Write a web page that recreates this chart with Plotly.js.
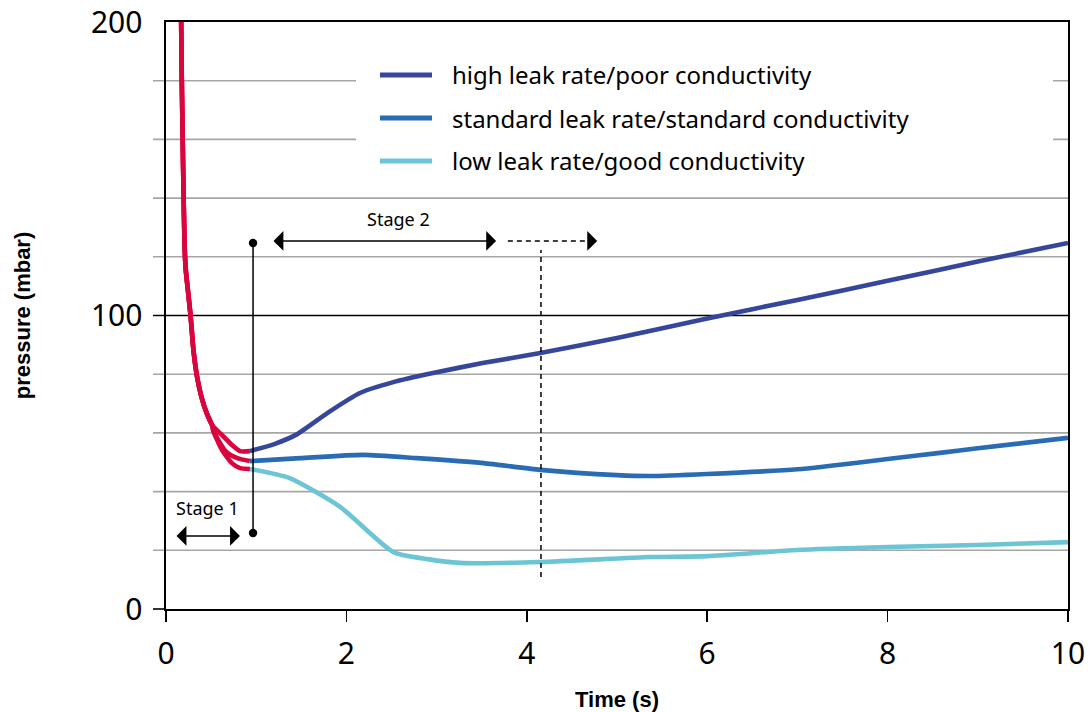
<!DOCTYPE html>
<html>
<head>
<meta charset="utf-8">
<script src="https://cdn.plot.ly/plotly-3.0.1.min.js"></script>
<style>html,body{margin:0;padding:0;background:#fff;}#chart{width:1091px;height:712px;}</style>
</head>
<body>
<div id="chart"></div>
<script>
// ---- data ----
const seriesNames = ['high leak rate/poor conductivity', 'standard leak rate/standard conductivity', 'low leak rate/good conductivity'];

// stage 1: common pump-down (red)
const stemX = [0.168, 0.175, 0.19, 0.205, 0.218, 0.245, 0.272, 0.305, 0.345, 0.395, 0.45, 0.51];
const stemY = [200, 180, 150, 125, 116, 108, 100, 88, 79, 72, 66.8, 62.7];
const highStemX = [0.62, 0.73, 0.82, 0.93];
const highStemY = [59.3, 55.9, 53.8, 53.8];
const stdStemX = [0.565, 0.67, 0.79, 0.93];
const stdStemY = [58.3, 53.5, 51.4, 50.4];
const lowStemX = [0.52, 0.62, 0.73, 0.82, 0.93];
const lowStemY = [61.0, 54.2, 49.7, 48.0, 47.7];

// stage 2: the three cases
const highX = [0.93, 1.2, 1.45, 1.8, 2.15, 2.52, 2.96, 3.51, 4.15, 5.0, 6.0, 7.0, 8.0, 9.0, 10.0];
const highY = [53.8, 56.2, 59.5, 67.0, 73.6, 77.3, 80.4, 83.8, 87.2, 92.3, 99.0, 105.3, 111.8, 118.4, 124.7];
const stdX = [0.93, 1.49, 2.19, 2.78, 3.52, 4.15, 5.0, 5.37, 6.0, 7.0, 8.0, 8.58, 9.0, 10.0];
const stdY = [50.4, 51.4, 52.5, 51.4, 49.7, 47.4, 45.6, 45.3, 46.0, 47.6, 51.1, 53.2, 54.8, 58.3];
const lowX = [0.93, 1.37, 1.93, 2.52, 2.9, 3.26, 4.15, 5.37, 6.0, 7.0, 8.0, 9.0, 10.0];
const lowY = [47.7, 44.6, 34.8, 19.4, 17.0, 15.7, 16.0, 17.7, 18.0, 20.1, 21.1, 21.8, 22.8];

const xTicks = [0, 2, 4, 6, 8, 10];
const yTickVals = [0, 100, 200];
const yTickText = ['0', '100', '200'];
const gridVals = [20, 40, 60, 80, 120, 140, 160, 180];

// annotation geometry (data units)
const stage1 = {x0: 0.10, x1: 0.82, y: 24.9, labelX: 0.455, labelY: 34.4, text: 'Stage 1'};
const stage2 = {x0: 1.175, x1: 3.66, y: 125.4, labelX: 2.583, labelY: 132.9, text: 'Stage 2'};
const stage2Dashed = {x0: 3.79, x1: 4.78, y: 125.4};
const markerLine = {x: 0.965, y0: 25.9, y1: 124.7};
const dashedLine = {x: 4.157, y0: 10.9, y1: 122.3};

// ---- styling ----
const RED = '#d8053f';
const COLORS = ['#36479b', '#2a6cb4', '#6cc5d5'];
const LW = 4.6;
const TICKFONT = {family: 'Noto Sans, sans-serif', size: 30, color: '#000'};
const TITLEFONT = {family: 'Liberation Sans, Arial, sans-serif', size: 22, color: '#000', weight: 'bold'};

const line = (c) => ({color: c, width: LW, shape: 'spline', smoothing: 0.6});

const traces = [
  {x: highX, y: highY, mode: 'lines', name: seriesNames[0], line: line(COLORS[0]), showlegend: false},
  {x: stdX, y: stdY, mode: 'lines', name: seriesNames[1], line: line(COLORS[1]), showlegend: false},
  {x: lowX, y: lowY, mode: 'lines', name: seriesNames[2], line: line(COLORS[2]), showlegend: false},
  {x: stemX.concat(highStemX), y: stemY.concat(highStemY), mode: 'lines', line: line(RED), showlegend: false},
  {x: stemX.concat(stdStemX), y: stemY.concat(stdStemY), mode: 'lines', line: line(RED), showlegend: false},
  {x: stemX.concat(lowStemX), y: stemY.concat(lowStemY), mode: 'lines', line: line(RED), showlegend: false}
];

// plot area: x 166..1068, y 22..609
const PX0 = 166, PW = 902, PY0 = 22, PH = 587;
const px = (p) => (p - PX0) / PW;
const py = (p) => (PY0 + PH - p) / PH;

const shapes = [];
gridVals.forEach(v => shapes.push({type: 'line', xref: 'paper', yref: 'y', x0: px(153), x1: 1, y0: v, y1: v,
  line: {color: '#a6a6a6', width: 1.6}, layer: 'below'}));
shapes.push({type: 'line', xref: 'paper', yref: 'y', x0: px(153), x1: 1, y0: 100, y1: 100, line: {color: '#000', width: 1.4}, layer: 'below'});
shapes.push({type: 'line', xref: 'paper', yref: 'paper', x0: px(153), x1: 0, y0: 0, y1: 0, line: {color: '#000', width: 1.6}, layer: 'below'});
// legend box (white) covering the grid
shapes.push({type: 'rect', xref: 'paper', yref: 'paper', x0: px(356), x1: px(1053), y0: py(188), y1: py(55),
  fillcolor: '#fff', line: {width: 0}, layer: 'below'});
// legend samples
const legRows = [75, 118, 161];
legRows.forEach((r, i) => shapes.push({type: 'line', xref: 'paper', yref: 'paper', x0: px(380), x1: px(432), y0: py(r), y1: py(r),
  line: {color: COLORS[i], width: 5}, layer: 'below'}));
// marker line with dots
shapes.push({type: 'line', xref: 'x', yref: 'y', x0: markerLine.x, x1: markerLine.x, y0: markerLine.y0, y1: markerLine.y1, line: {color: '#000', width: 1.5}, layer: 'above'});
[markerLine.y0, markerLine.y1].forEach(v => shapes.push({type: 'circle', xref: 'x', yref: 'y', xsizemode: 'pixel', ysizemode: 'pixel',
  xanchor: markerLine.x, yanchor: v, x0: -4.2, x1: 4.2, y0: -4.2, y1: 4.2, fillcolor: '#000', line: {width: 0}, layer: 'above'}));
// dashed vertical line
shapes.push({type: 'line', xref: 'x', yref: 'y', x0: dashedLine.x, x1: dashedLine.x, y0: dashedLine.y0, y1: dashedLine.y1, line: {color: '#000', width: 1.5, dash: '5px,4px'}, layer: 'above'});
// dashed arrow shaft
shapes.push({type: 'line', xref: 'x', yref: 'y', x0: stage2Dashed.x0, x1: stage2Dashed.x1 - 0.07, y0: stage2Dashed.y, y1: stage2Dashed.y, line: {color: '#000', width: 1.5, dash: '5px,4px'}, layer: 'above'});

const arrowBase = {xref: 'x', yref: 'y', axref: 'x', ayref: 'y', text: '', showarrow: true, arrowhead: 1, arrowsize: 2.2, arrowwidth: 1.5, arrowcolor: '#000', startarrowhead: 1, startarrowsize: 2.2, standoff: 0, startstandoff: 0};
const labelFont = {family: 'Noto Sans, sans-serif', size: 18, color: '#000'};
const legFont = {family: 'Noto Sans, sans-serif', size: 24, color: '#000'};

const annotations = [
  Object.assign({}, arrowBase, {x: stage1.x1, y: stage1.y, ax: stage1.x0, ay: stage1.y, arrowside: 'end+start'}),
  Object.assign({}, arrowBase, {x: stage2.x1, y: stage2.y, ax: stage2.x0, ay: stage2.y, arrowside: 'end+start'}),
  Object.assign({}, arrowBase, {x: stage2Dashed.x1, y: stage2Dashed.y, ax: stage2Dashed.x1 - 0.1, ay: stage2Dashed.y, arrowside: 'end'}),
  {xref: 'x', yref: 'y', x: stage1.labelX, y: stage1.labelY, text: stage1.text, showarrow: false, font: labelFont},
  {xref: 'x', yref: 'y', x: stage2.labelX, y: stage2.labelY, text: stage2.text, showarrow: false, font: labelFont}
];
legRows.forEach((r, i) => annotations.push({xref: 'paper', yref: 'paper', x: px(450), y: py(r), xanchor: 'left', yanchor: 'middle',
  text: seriesNames[i], showarrow: false, font: legFont}));

const layout = {
  width: 1091, height: 712,
  margin: {l: PX0, r: 1091 - PX0 - PW, t: PY0, b: 712 - PY0 - PH, pad: 0},
  paper_bgcolor: '#fff', plot_bgcolor: '#fff',
  showlegend: false,
  xaxis: {
    range: [0, 10], tickvals: xTicks, ticks: 'outside', ticklen: 11, tickwidth: 1.5, tickcolor: '#000',
    showline: true, linecolor: '#000', linewidth: 1.6, mirror: true, showgrid: false, zeroline: false,
    tickfont: TICKFONT, ticklabelstandoff: 6, fixedrange: true,
    title: {text: 'Time (s)', font: TITLEFONT, standoff: 32}
  },
  yaxis: {
    range: [0, 200], tickvals: yTickVals, ticktext: yTickText, ticks: '', showline: true, linecolor: '#000', linewidth: 1.6,
    mirror: true, showgrid: false, zeroline: false, tickfont: TICKFONT, ticklabelstandoff: 16, fixedrange: true,
    title: {text: 'pressure (mbar)', font: TITLEFONT, standoff: 54}
  },
  shapes: shapes,
  annotations: annotations
};

Plotly.newPlot('chart', traces, layout, {displayModeBar: false, staticPlot: true});
</script>
</body>
</html>
